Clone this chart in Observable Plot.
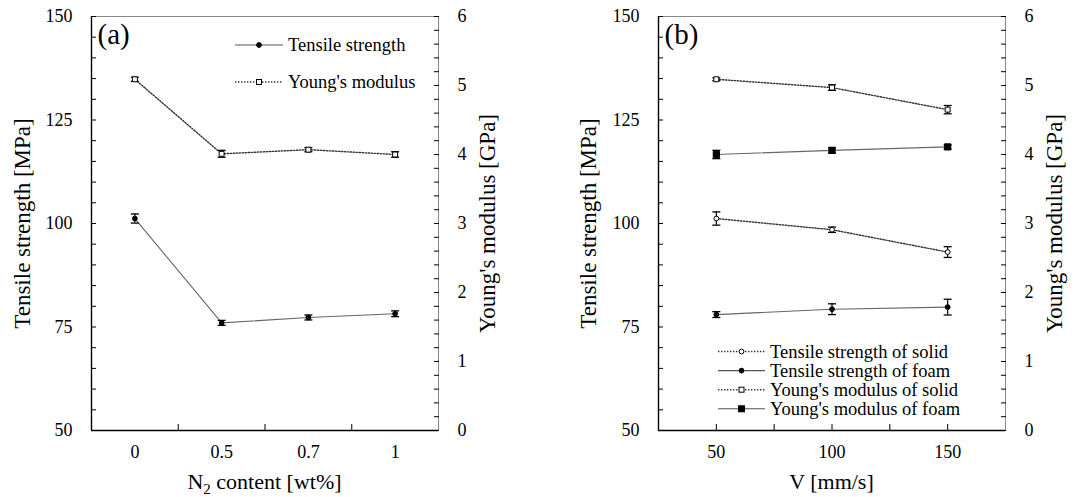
<!DOCTYPE html>
<html><head><meta charset="utf-8">
<script src="https://cdn.jsdelivr.net/npm/d3@7"></script>
<script src="https://cdn.jsdelivr.net/npm/@observablehq/plot@0.6"></script>
<style>
body{margin:0;background:#fff;}
#wrap{display:flex;width:1092px;height:497px;}
#wrap > div{width:546px;height:497px;}
</style></head><body><div id="wrap"><div id="a"></div><div id="b"></div></div>
<script>
// ---- Data: panel (a) ----
const n2Content = ["0", "0.5", "0.7", "1"];
const tensileA = [101.2, 76.0, 77.3, 78.2];
const tensileAErr = [1.1, 0.6, 0.6, 0.7];
const modulusA = [5.09, 4.01, 4.07, 4.00];
const modulusAErr = [0.03, 0.05, 0.03, 0.04];

// ---- Data: panel (b) ----
const speeds = [50, 100, 150];
const tensileSolid = [101.2, 98.5, 93.1];
const tensileSolidErr = [1.6, 0.65, 1.3];
const tensileFoam = [78.0, 79.3, 79.8];
const tensileFoamErr = [0.7, 1.3, 1.9];
const modulusSolid = [5.09, 4.97, 4.65];
const modulusSolidErr = [0.02, 0.04, 0.06];
const modulusFoam = [4.00, 4.06, 4.11];
const modulusFoamErr = [0.06, 0.04, 0.03];

// ---- Axes ----
const mpaDomain = [50, 150];
const gpaDomain = [0, 6];
const mpaTicks = [50, 75, 100, 125, 150];
const gpaTicks = [0, 1, 2, 3, 4, 5, 6];
const speedDomain = [25, 175];
const speedTicks = [50, 100, 150];
const speedMinorTicks = [75, 125];

const FONT = "'Liberation Serif', 'Times New Roman', serif";
// map GPa onto the MPa (left) scale for the secondary axis
const toMPa = g => mpaDomain[0] + (g - gpaDomain[0]) * (mpaDomain[1] - mpaDomain[0]) / (gpaDomain[1] - gpaDomain[0]);
const toGPa = m => gpaDomain[0] + (m - mpaDomain[0]) * (gpaDomain[1] - gpaDomain[0]) / (mpaDomain[1] - mpaDomain[0]);

const capSymbol = {draw(ctx, size) { const r = Math.sqrt(size / Math.PI); ctx.moveTo(-r, 0); ctx.lineTo(r, 0); }};

function rows(xs, ys, es, conv = v => v) {
  return xs.map((x, i) => ({x, y: conv(ys[i]), lo: conv(ys[i] - es[i]), hi: conv(ys[i] + es[i])}));
}

function seriesMarks(data, {dotted, symbol, fill, r}) {
  return [
    Plot.line(data, {x: "x", y: "y", stroke: dotted ? "#333" : "#666", strokeWidth: dotted ? 1.4 : 1.1,
      strokeDasharray: dotted ? "1.4,1.6" : null}),
    Plot.ruleX(data, {x: "x", y1: "lo", y2: "hi", stroke: "#000", strokeWidth: 1.2}),
    Plot.dot(data, {x: "x", y: "lo", symbol: capSymbol, r: 4, stroke: "#000", strokeWidth: 1.3}),
    Plot.dot(data, {x: "x", y: "hi", symbol: capSymbol, r: 4, stroke: "#000", strokeWidth: 1.3}),
    Plot.dot(data, {x: "x", y: "y", symbol, r, fill, stroke: "#000", strokeWidth: 1})
  ];
}

function yAxisMarks() {
  const minorL = d3.range(mpaDomain[0], mpaDomain[1] + 0.01, 5);
  const minorR = d3.range(gpaDomain[0], gpaDomain[1] + 0.001, 0.2).map(toMPa);
  return [
    Plot.axisY(minorL, {anchor: "left", tickSize: -5, tickFormat: () => "", label: null, stroke: "#000"}),
    Plot.axisY(mpaTicks, {anchor: "left", tickSize: 0, tickPadding: 19, label: null, fontSize: 18}),
    Plot.axisY(minorR, {anchor: "right", tickSize: -5, tickFormat: () => "", label: null, stroke: "#000"}),
    Plot.axisY(gpaTicks.map(toMPa), {anchor: "right", tickSize: 0, tickPadding: 19, label: null, fontSize: 18,
      tickFormat: d => String(Math.round(toGPa(d)))})
  ];
}

function frameMarks(xDomain) {
  return [
    Plot.frame({stroke: "#888", strokeWidth: 1}),
    Plot.ruleY([mpaDomain[0]], {stroke: "#000", strokeWidth: 1.4}),
    Plot.ruleX([xDomain[0]], {stroke: "#000", strokeWidth: 1.4})
  ];
}

function titles(left, right, leftDx, rightDx, tag) {
  return [
    Plot.text([left], {frameAnchor: "left", rotate: -90, dx: leftDx, textAnchor: "middle", fontSize: 23, fontFamily: FONT}),
    Plot.text([right], {frameAnchor: "right", rotate: -90, dx: rightDx, textAnchor: "middle", fontSize: 23, fontFamily: FONT}),
    Plot.text([tag], {frameAnchor: "top-left", dx: 6, dy: 7, textAnchor: "start", lineAnchor: "top", fontSize: 29, fontFamily: FONT})
  ];
}

// ---------- Panel (a) ----------
const xA = n2Content.map((_, i) => i);
const xADomain = [-0.5, n2Content.length - 0.5];
const plotA = Plot.plot({
  width: 546, height: 497,
  marginLeft: 91, marginRight: 108, marginTop: 16, marginBottom: 67,
  style: {fontFamily: FONT, fontSize: "18px", color: "#000", background: "#fff"},
  x: {domain: xADomain, axis: null},
  y: {domain: mpaDomain, axis: null},
  marks: [
    ...frameMarks(xADomain),
    ...yAxisMarks(),
    Plot.axisX(xA, {anchor: "bottom", tickSize: 0, tickPadding: 15, label: null, fontSize: 18, tickFormat: i => n2Content[i]}),
    Plot.axisX(xA.slice(0, -1).map(i => i + 0.5), {anchor: "bottom", tickSize: -6, tickFormat: () => "", label: null}),
    ...seriesMarks(rows(xA, modulusA, modulusAErr, toMPa), {dotted: true, symbol: "square", fill: "#fff", r: 2.8}),
    ...seriesMarks(rows(xA, tensileA, tensileAErr), {dotted: false, symbol: "circle", fill: "#000", r: 2.4}),
    ...titles("Tensile strength [MPa]", "Young's modulus [GPa]", -69, 49, "(a)")
  ]
});
document.getElementById("a").append(plotA);

// ---------- Panel (b) ----------
const plotB = Plot.plot({
  width: 546, height: 497,
  marginLeft: 112, marginRight: 87, marginTop: 16, marginBottom: 67,
  style: {fontFamily: FONT, fontSize: "18px", color: "#000", background: "#fff"},
  x: {domain: speedDomain, axis: null},
  y: {domain: mpaDomain, axis: null},
  marks: [
    ...frameMarks(speedDomain),
    ...yAxisMarks(),
    Plot.axisX(speedTicks, {anchor: "bottom", tickSize: 0, tickPadding: 15, label: null, fontSize: 18}),
    Plot.axisX([...speedTicks, ...speedMinorTicks], {anchor: "bottom", tickSize: -6, tickFormat: () => "", label: null}),
    ...seriesMarks(rows(speeds, modulusSolid, modulusSolidErr, toMPa), {dotted: true, symbol: "square", fill: "#fff", r: 2.8}),
    ...seriesMarks(rows(speeds, modulusFoam, modulusFoamErr, toMPa), {dotted: false, symbol: "square", fill: "#000", r: 3.5}),
    ...seriesMarks(rows(speeds, tensileSolid, tensileSolidErr), {dotted: true, symbol: "circle", fill: "#fff", r: 2.4}),
    ...seriesMarks(rows(speeds, tensileFoam, tensileFoamErr), {dotted: false, symbol: "circle", fill: "#000", r: 2.4}),
    ...titles("Tensile strength [MPa]", "Young's modulus [GPa]", -70, 49, "(b)")
  ]
});
document.getElementById("b").append(plotB);

// ---------- x-axis titles ----------
function addXTitle(svg, cx, parts) {
  const t = d3.select(svg).append("text").attr("x", cx).attr("y", 489)
    .attr("text-anchor", "middle").style("font-family", FONT).style("font-size", "22px").attr("fill", "#000");
  parts.forEach(p => {
    const s = t.append("tspan").text(p.text);
    if (p.sub) s.style("font-size", "15px").attr("dy", 5);
    if (p.after) s.attr("dy", -5);
  });
}
addXTitle(plotA, (91 + 438) / 2, [{text: "N"}, {text: "2", sub: true}, {text: " content [wt%]", after: true}]);
addXTitle(plotB, (112 + 459) / 2, [{text: "V [mm/s]"}]);

// ---------- legends ----------
const legendA = [
  {label: "Tensile strength", dotted: false, marker: "circle", fill: "#000"},
  {label: "Young's modulus", dotted: true, marker: "square", fill: "#fff"}
];
const legendB = [
  {label: "Tensile strength of solid", dotted: true, marker: "circle", fill: "#fff"},
  {label: "Tensile strength of foam", dotted: false, marker: "circle", fill: "#000"},
  {label: "Young's modulus of solid", dotted: true, marker: "square", fill: "#fff"},
  {label: "Young's modulus of foam", dotted: false, marker: "square", fill: "#000", big: true}
];
function drawLegend(svg, items, x0, y0, step, lineLen) {
  const g = d3.select(svg).append("g").style("font-family", FONT).style("font-size", "18.5px").attr("text-anchor", "start");
  items.forEach((d, i) => {
    const y = y0 + i * step;
    g.append("line").attr("x1", x0).attr("x2", x0 + lineLen).attr("y1", y).attr("y2", y)
      .attr("stroke", d.dotted ? "#333" : "#555").attr("stroke-width", d.dotted ? 1.4 : 1.1)
      .attr("stroke-dasharray", d.dotted ? "1.4,1.6" : null);
    const cx = x0 + lineLen / 2;
    if (d.marker === "circle") {
      g.append("circle").attr("cx", cx).attr("cy", y).attr("r", 2.4).attr("fill", d.fill).attr("stroke", "#000");
    } else {
      const s = d.big ? 6 : 5;
      g.append("rect").attr("x", cx - s / 2).attr("y", y - s / 2).attr("width", s).attr("height", s)
        .attr("fill", d.fill).attr("stroke", "#000");
    }
    g.append("text").attr("x", x0 + lineLen + 5).attr("y", y + 6).attr("text-anchor", "start").text(d.label).attr("fill", "#000");
  });
}
drawLegend(plotA, legendA, 235, 45, 37, 48);
drawLegend(plotB, legendB, 172, 351.5, 19.1, 47);
</script></body></html>
